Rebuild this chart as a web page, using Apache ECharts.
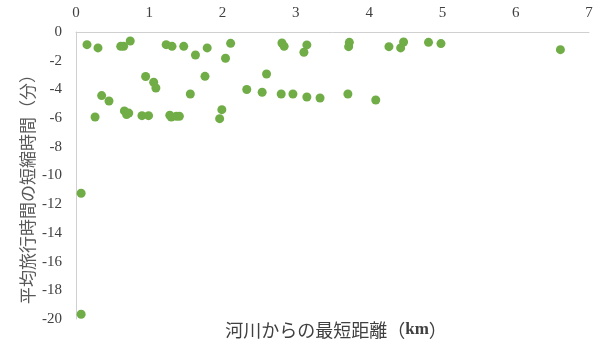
<!DOCTYPE html>
<html>
<head>
<meta charset="utf-8">
<script src="https://cdn.jsdelivr.net/npm/echarts@6/dist/echarts.min.js"></script>
<style>
  html, body { margin: 0; padding: 0; background: #fff; }
  #chart { width: 599px; height: 345px; }
</style>
</head>
<body>
<div id="chart"></div>
<script>
// Shortest distance from the river (km)
const distanceKm = [
  0.07, 0.07,
  0.15, 0.30, 0.61, 0.65, 0.74, 1.23, 1.31, 1.47, 1.63, 1.79, 2.11, 2.04,
  2.81, 2.84, 3.15, 3.11, 3.73, 3.72, 4.27, 4.47, 4.43, 4.81, 4.98, 6.61,
  0.95, 1.06, 1.09, 1.76, 2.60,
  0.35, 0.45, 1.56, 2.33, 2.54, 2.80, 2.96, 3.15, 3.33, 3.71, 4.09,
  0.26, 0.66, 0.69, 0.72, 0.90, 0.99, 1.28, 1.30, 1.37, 1.41, 1.99, 1.96
];
// Reduction of the average travel time (minutes)
const reductionMin = [
  -11.24, -19.67,
  -0.88, -1.11, -1.00, -1.00, -0.63, -0.88, -1.00, -1.00, -1.60, -1.11, -0.79, -1.83,
  -0.77, -1.00, -0.90, -1.41, -0.72, -1.02, -1.02, -0.70, -1.11, -0.72, -0.81, -1.23,
  -3.10, -3.50, -3.90, -3.09, -2.93,
  -4.43, -4.81, -4.32, -4.01, -4.20, -4.32, -4.32, -4.53, -4.60, -4.32, -4.74,
  -5.92, -5.50, -5.75, -5.65, -5.83, -5.83, -5.80, -5.92, -5.87, -5.87, -5.41, -6.04
];
const xTicks = [0, 1, 2, 3, 4, 5, 6, 7];
const yTicks = [0, -2, -4, -6, -8, -10, -12, -14, -16, -18, -20];

const xTitle = '河川からの最短距離';
const xUnit = 'km';
const yTitle = '平均旅行時間の短縮時間（分）';

const points = distanceKm.map((d, i) => [d, reductionMin[i]]);

const chart = echarts.init(document.getElementById('chart'), null, { renderer: 'canvas' });
chart.setOption({
  animation: false,
  grid: { left: 76, right: 10, top: 32, bottom: 26, containLabel: false },
  xAxis: {
    type: 'value',
    position: 'top',
    min: xTicks[0],
    max: xTicks[xTicks.length - 1],
    interval: 1,
    axisLine: { show: true, lineStyle: { color: '#d0d0d0', width: 1 } },
    axisTick: { show: false },
    splitLine: { show: false },
    axisLabel: {
      margin: 11,
      fontFamily: 'Liberation Serif',
      fontSize: 15,
      color: '#404040'
    }
  },
  yAxis: {
    type: 'value',
    min: yTicks[yTicks.length - 1],
    max: yTicks[0],
    interval: 2,
    axisLine: { show: true, onZero: false, lineStyle: { color: '#d0d0d0', width: 1 } },
    axisTick: { show: false },
    splitLine: { show: false },
    axisLabel: {
      margin: 14,
      fontFamily: 'Liberation Serif',
      fontSize: 15,
      color: '#404040'
    }
  },
  graphic: [
    {
      type: 'text',
      x: 336,
      y: 330,
      style: {
        text: xTitle + '（{b|' + xUnit + '}）',
        rich: {
          b: { fontFamily: 'Liberation Serif', fontWeight: 'bold', fontSize: 17, fill: '#404040' }
        },
        font: '18px "Noto Sans CJK JP"',
        fill: '#404040',
        textAlign: 'center',
        textVerticalAlign: 'middle'
      }
    },
    {
      type: 'text',
      x: 28,
      y: 185,
      rotation: Math.PI / 2,
      style: {
        text: yTitle,
        font: '17px "Noto Sans CJK JP"',
        fill: '#595959',
        textAlign: 'center',
        textVerticalAlign: 'middle'
      }
    }
  ],
  series: [{
    type: 'scatter',
    data: points,
    symbol: 'circle',
    symbolSize: 9,
    itemStyle: { color: '#70ad47', opacity: 1 }
  }]
});
</script>
</body>
</html>
